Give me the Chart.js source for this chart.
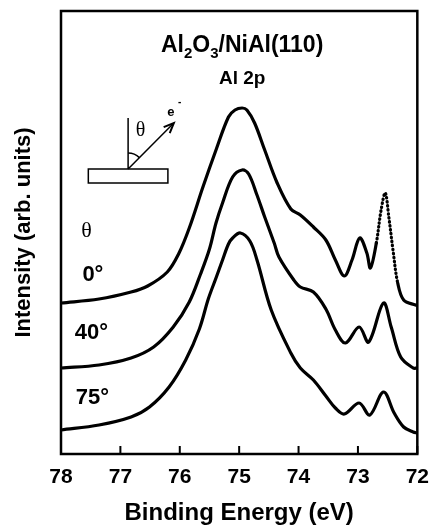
<!DOCTYPE html>
<html>
<head>
<meta charset="utf-8">
<script src="https://cdn.jsdelivr.net/npm/chart.js@4.4.1/dist/chart.umd.min.js"></script>
<style>
  html, body { margin: 0; padding: 0; background: #fff; }
  canvas { display: block; }
</style>
</head>
<body>
<canvas id="xps" width="440" height="525"></canvas>
<script>
// Al 2p spectra of Al2O3/NiAl(110) at three emission angles
const xTicks = [78, 77, 76, 75, 74, 73, 72];
const angleLabels = ['0°', '40°', '75°'];

// theta = 0
const energy0 = [78.00, 77.36, 76.82, 76.54, 76.21, 76.02, 75.84, 75.61, 75.39, 75.18, 75.07, 74.95, 74.87, 74.74, 74.57, 74.36,
  74.13, 73.97, 73.75, 73.54, 73.38, 73.23, 73.10, 72.97, 72.85, 72.79, 72.69, 72.61, 72.54, 72.48, 72.41, 72.33, 72.23, 72.03, 72.00];
const counts0 = [151, 155, 162, 168, 182, 200, 226, 267, 304, 337, 344, 346, 344, 331, 304, 271,
  245, 239, 227, 214, 194, 178, 194, 216, 201, 186, 211, 244, 261, 237, 204, 171, 154, 149, 149];

// theta = 40
const energy40 = [78.00, 77.36, 76.82, 76.44, 76.11, 75.84, 75.65, 75.50, 75.39, 75.28, 75.11, 74.95, 74.84, 74.70, 74.57, 74.41,
  74.33, 74.08, 73.97, 73.75, 73.54, 73.38, 73.21, 72.98, 72.82, 72.57, 72.44, 72.28, 72.07, 72.00];
const counts40 = [86, 89, 96, 107, 127, 152, 180, 205, 231, 251, 277, 284, 280, 259, 237, 211,
  197, 174, 167, 162, 145, 124, 111, 127, 112, 151, 127, 97, 86, 86];

// theta = 75
const energy75 = [78.00, 77.36, 76.82, 76.51, 76.18, 75.90, 75.67, 75.52, 75.39, 75.28, 75.18, 75.11, 74.98, 74.82, 74.70, 74.46,
  74.13, 73.97, 73.75, 73.54, 73.38, 73.23, 72.98, 72.80, 72.57, 72.39, 72.23, 72.07, 72.00];
const counts75 = [24, 29, 37, 47, 67, 94, 125, 155, 176, 194, 210, 216, 221, 213, 194, 144,
  101, 86, 74, 58, 46, 40, 51, 39, 62, 41, 27, 22, 21];

const FONT = '"Liberation Sans", Arial, Helvetica, sans-serif';
const SERIF = '"Liberation Serif", "Times New Roman", serif';

const toPoints = (xs, ys) => xs.map((e, i) => ({ x: e, y: ys[i] }));

const spectrum = (label, xs, ys, dottedPeak) => ({
  label,
  data: toPoints(xs, ys),
  borderColor: '#000',
  borderWidth: 3.2,
  borderCapStyle: 'round',
  borderJoinStyle: 'round',
  pointRadius: 0,
  fill: false,
  tension: 0.35,
  segment: {
    // the steep 72.5 eV peak of the normal-emission curve is drawn dotted
    borderDash: ctx => (dottedPeak && ctx.p0.parsed.x <= 72.70 && ctx.p1.parsed.x >= 72.32) ? [0.5, 3.5] : undefined
  }
});

// frame, inward ticks, title and inset sketch
const decorations = {
  id: 'decorations',
  afterDraw(chart) {
    const { ctx, chartArea: a, scales: { x, y } } = chart;
    const px = e => x.getPixelForValue(e);
    const py = v => y.getPixelForValue(v);
    ctx.save();
    ctx.strokeStyle = '#000';
    ctx.fillStyle = '#000';

    ctx.lineWidth = 2.5;
    ctx.strokeRect(a.left, a.top, a.right - a.left, a.bottom - a.top);

    ctx.lineWidth = 2;
    ctx.beginPath();
    x.ticks.forEach(t => {
      const p = px(t.value);
      ctx.moveTo(p, a.bottom);
      ctx.lineTo(p, a.bottom - 8);
    });
    ctx.stroke();

    // Al2O3/NiAl(110) with subscripts
    const parts = [['Al', 23, 0], ['2', 15, 6], ['O', 23, 0], ['3', 15, 6], ['/NiAl(110)', 23, 0]];
    ctx.textAlign = 'left';
    ctx.textBaseline = 'alphabetic';
    let w = 0;
    parts.forEach(([t, s]) => { ctx.font = `bold ${s}px ${FONT}`; w += ctx.measureText(t).width; });
    let cx = px(74.95) - w / 2;
    const base = py(402);
    parts.forEach(([t, s, dy]) => {
      ctx.font = `bold ${s}px ${FONT}`;
      ctx.fillText(t, cx, base + dy);
      cx += ctx.measureText(t).width;
    });

    ctx.textAlign = 'center';
    ctx.font = `bold 19px ${FONT}`;
    ctx.fillText('Al 2p', px(74.95), py(370));

    // angle labels
    ctx.textAlign = 'left';
    ctx.textBaseline = 'middle';
    ctx.font = `bold 22px ${FONT}`;
    ctx.fillText(angleLabels[0], px(77.64), py(179));
    ctx.fillText(angleLabels[1], px(77.77), py(121));
    ctx.fillText(angleLabels[2], px(77.75), py(56));
    ctx.textAlign = 'center';
    ctx.font = `22px ${SERIF}`;
    ctx.fillText('θ', px(77.57), py(223));

    // inset: sample slab, surface normal, emitted electron
    ctx.lineWidth = 1.5;
    ctx.strokeRect(px(77.54), py(285), px(76.20) - px(77.54), py(271) - py(285));
    const ox = px(76.87), oy = py(285);
    const tx = px(76.10), ty = py(331);
    ctx.beginPath();
    ctx.moveTo(ox, oy);
    ctx.lineTo(ox, py(336));
    ctx.moveTo(ox, oy);
    ctx.lineTo(tx, ty);
    ctx.stroke();
    const ang = Math.atan2(ty - oy, tx - ox);
    ctx.lineWidth = 2;
    ctx.beginPath();
    ctx.moveTo(tx - 11 * Math.cos(ang - 0.4), ty - 11 * Math.sin(ang - 0.4));
    ctx.lineTo(tx, ty);
    ctx.lineTo(tx - 11 * Math.cos(ang + 0.4), ty - 11 * Math.sin(ang + 0.4));
    ctx.stroke();
    ctx.lineWidth = 1.5;
    ctx.beginPath();
    ctx.arc(ox, oy, 16, -Math.PI / 2, ang);
    ctx.stroke();

    ctx.font = `20px ${SERIF}`;
    ctx.fillText('θ', px(76.66), py(323));
    ctx.font = `bold 13px ${FONT}`;
    ctx.fillText('e', px(76.15), py(342));
    ctx.font = `bold 10px ${FONT}`;
    ctx.fillText('-', px(76.00), py(352));
    ctx.restore();
  }
};

new Chart(document.getElementById('xps'), {
  type: 'line',
  data: {
    datasets: [
      spectrum('0°', energy0, counts0, true),
      spectrum('40°', energy40, counts40, false),
      spectrum('75°', energy75, counts75, false)
    ]
  },
  options: {
    responsive: false,
    animation: false,
    devicePixelRatio: 1,
    layout: { padding: { top: 11, right: 13, left: 0, bottom: 0 } },
    plugins: { legend: { display: false }, tooltip: { enabled: false } },
    scales: {
      x: {
        type: 'linear',
        reverse: true,
        min: 72,
        max: 78,
        afterBuildTicks: s => { s.ticks = xTicks.map(v => ({ value: v })); },
        afterFit: s => { s.height = 71; },
        grid: { display: false, drawTicks: false },
        border: { display: false },
        ticks: {
          color: '#000',
          padding: 11,
          maxRotation: 0,
          font: { family: FONT, size: 21, weight: 'bold' }
        },
        title: {
          display: true,
          text: 'Binding Energy (eV)',
          color: '#000',
          padding: { top: 0, bottom: 0 },
          font: { family: FONT, size: 24, weight: 'bold', lineHeight: 1 }
        }
      },
      y: {
        min: 0,
        max: 443,
        afterFit: s => { s.width = 61; },
        grid: { display: false, drawTicks: false },
        border: { display: false },
        ticks: { display: false },
        title: {
          display: true,
          text: 'Intensity (arb. units)',
          color: '#000',
          padding: { top: 11, bottom: 0 },
          font: { family: FONT, size: 22, weight: 'bold' }
        }
      }
    }
  },
  plugins: [decorations]
});
</script>
</body>
</html>
